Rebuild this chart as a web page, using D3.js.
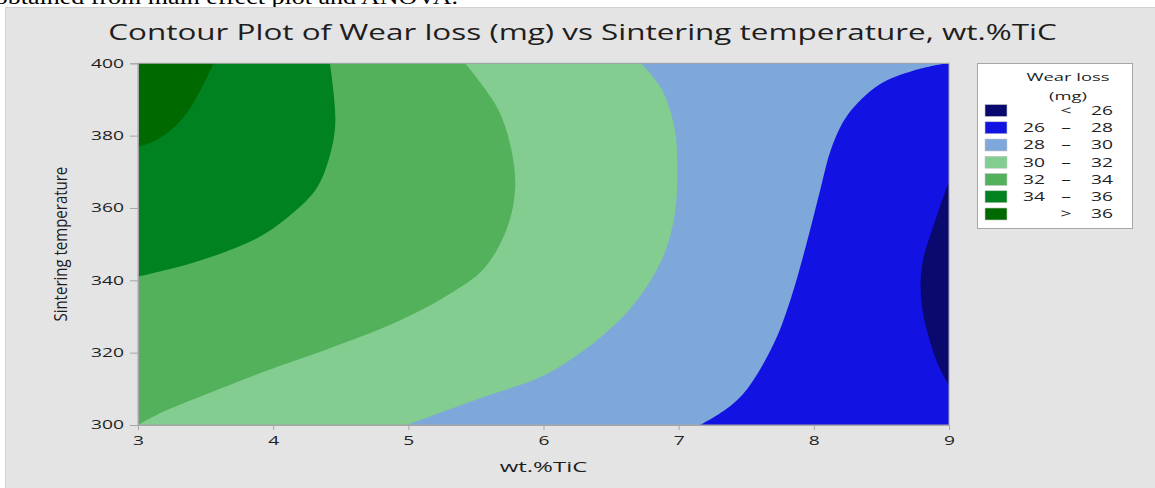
<!DOCTYPE html>
<html>
<head>
<meta charset="utf-8">
<script src="https://cdn.jsdelivr.net/npm/d3@7"></script>
<style>
  body { margin: 0; background: #fff; }
  text { font-family: "Open Sans", "Noto Sans", sans-serif; fill: #1e1e1e; }
</style>
</head>
<body>
<div class="root"></div>
<script>
// axis ticks
var xTicks = [3, 4, 5, 6, 7, 8, 9];
var yTicks = [300, 320, 340, 360, 380, 400];

// contour levels of Wear loss (mg)
var levels = [26, 28, 30, 32, 34, 36];
var legendTitleLines = ['Wear loss', '(mg)'];

// contour lines: [wt.%TiC, Sintering temperature]
var contour26 = [[9, 367.3], [8.93, 360], [8.87, 353.4], [8.81, 346], [8.79, 339.6], [8.80, 333], [8.83, 327], [8.92, 316.6], [9, 311]];
var contour28 = [[8.98, 400], [8.74, 398], [8.48, 394], [8.25, 385.7], [8.13, 376.5], [8.05, 365.4], [7.95, 350.7], [7.83, 335], [7.71, 323], [7.51, 310.1], [7.36, 304.6], [7.16, 300]];
var contour30 = [[6.72, 400], [6.87, 393.1], [6.97, 382], [6.99, 370], [6.97, 358], [6.89, 347], [6.72, 335.9], [6.47, 325.8], [6.02, 314], [5.53, 307.4], [4.99, 300]];
var contour32 = [[5.42, 400], [5.66, 387.6], [5.76, 376.5], [5.79, 365.4], [5.73, 354.4], [5.56, 343.3], [5.29, 335.9], [4.92, 328.6], [4.42, 321.2], [3.93, 314.7], [3.43, 307.4], [3.19, 303.7], [3, 300]];
var contour34 = [[4.42, 400], [4.46, 384], [4.42, 374.6], [4.32, 365.4], [4.13, 358.1], [3.88, 351.6], [3.43, 345.1], [3, 341]];
var contour36 = [[3.56, 400], [3.43, 390.3], [3.31, 383.9], [3.15, 379], [3, 376.9]];

var bandColors = ['#0a0a6e', '#1212e2', '#7ea8da', '#82cd8f', '#53b15b', '#008221', '#006a00'];

function runChart() {
  var W = 1155, H = 488;
  var svg = d3.select('.root').append('svg')
    .attr('width', W)
    .attr('height', H);

  // cut-off line of the surrounding document
  svg.append('text')
    .attr('text-anchor', 'end')
    .attr('transform', 'translate(458,4) scale(1.3,1)')
    .style('font-family', '"Liberation Serif", serif')
    .style('font-size', '20px')
    .style('fill', '#000')
    .text('were obtained from main effect plot and ANOVA.');

  svg.append('rect')
    .attr('x', 5.5).attr('y', 7.5)
    .attr('width', W).attr('height', H)
    .attr('fill', '#e4e4e4')
    .attr('stroke', '#d2d2d2');

  var x = d3.scaleLinear().domain([3, 9]).range([138, 949]);
  var y = d3.scaleLinear().domain([300, 400]).range([425, 63.3]);

  // title, stretched like the picture
  var title = svg.append('text')
    .attr('text-anchor', 'middle')
    .style('font-size', '21px')
    .text('Contour Plot of Wear loss (mg) vs Sintering temperature, wt.%TiC');
  var tsx = 949 / title.node().getComputedTextLength();
  title.attr('transform', 'translate(582.5,40) scale(' + tsx + ',1)');

  // width factor for the small text
  var probe = svg.append('text').style('font-size', '12px').text('400');
  var nsx = 33 / probe.node().getComputedTextLength();
  probe.remove();

  // contour bands
  svg.append('clipPath').attr('id', 'plotclip')
    .append('rect')
    .attr('x', x(3)).attr('y', y(400))
    .attr('width', x(9) - x(3)).attr('height', y(300) - y(400));

  var bands = svg.append('g').attr('clip-path', 'url(#plotclip)');
  var line = d3.line()
    .x(function(d) { return x(d[0]); })
    .y(function(d) { return y(d[1]); })
    .curve(d3.curveCatmullRom.alpha(0.5));

  function leftRegion(pts) {
    return line(pts) + 'L' + x(3) + ',' + y(300) + 'L' + x(3) + ',' + y(400) + 'Z';
  }

  bands.append('rect')
    .attr('x', x(3)).attr('y', y(400))
    .attr('width', x(9) - x(3)).attr('height', y(300) - y(400))
    .attr('fill', bandColors[1]);

  bands.append('path').attr('d', line(contour26) + 'Z').attr('fill', bandColors[0]);

  var upper = [contour28, contour30, contour32, contour34, contour36];
  bands.selectAll('path.up')
    .data(upper)
    .enter().append('path')
      .attr('class', 'up')
      .attr('d', leftRegion)
      .attr('fill', function(d, i) { return bandColors[i + 2]; });

  // frame
  svg.append('rect')
    .attr('x', x(3)).attr('y', y(400))
    .attr('width', x(9) - x(3)).attr('height', y(300) - y(400))
    .attr('fill', 'none')
    .attr('stroke', '#a6a6a6');

  // axes
  var gx = svg.append('g')
    .attr('transform', 'translate(0,' + y(300) + ')')
    .call(d3.axisBottom(x).tickValues(xTicks).tickFormat(d3.format('d')).tickSize(5).tickPadding(6));
  var gy = svg.append('g')
    .attr('transform', 'translate(' + x(3) + ',0)')
    .call(d3.axisLeft(y).tickValues(yTicks).tickFormat(d3.format('d')).tickSize(8).tickPadding(6));

  [gx, gy].forEach(function(g) {
    g.select('.domain').attr('stroke', '#a6a6a6');
    g.selectAll('.tick line').attr('stroke', '#a6a6a6');
    g.selectAll('.tick text')
      .style('font-size', '12px')
      .attr('font-family', null)
      .style('fill', '#1e1e1e');
  });
  gx.selectAll('.tick text').each(function() {
    var t = d3.select(this);
    t.attr('transform', 'translate(0,' + t.attr('y') + ') scale(' + nsx + ',1)').attr('y', 0);
  });
  gy.selectAll('.tick text').each(function() {
    var t = d3.select(this);
    t.attr('transform', 'translate(' + t.attr('x') + ',0) scale(' + nsx + ',1)').attr('x', 0);
  });

  svg.append('text')
    .attr('text-anchor', 'middle')
    .attr('transform', 'translate(' + (x(3) + x(9)) / 2 + ',472) scale(' + nsx + ',1)')
    .style('font-size', '15px')
    .text('wt.%TiC');

  svg.append('text')
    .attr('text-anchor', 'middle')
    .attr('transform', 'translate(67,' + (y(300) + y(400)) / 2 + ') scale(1.25,1) rotate(-90)')
    .style('font-size', '15px')
    .text('Sintering temperature');

  // legend
  var lg = svg.append('g');
  lg.append('rect')
    .attr('x', 977.5).attr('y', 63.5)
    .attr('width', 155).attr('height', 165)
    .attr('fill', '#fff')
    .attr('stroke', '#a6a6a6');

  legendTitleLines.forEach(function(s, i) {
    lg.append('text')
      .attr('text-anchor', 'middle')
      .attr('transform', 'translate(1068,' + (81 + i * 18.5) + ') scale(' + nsx + ',1)')
      .style('font-size', '11.5px')
      .text(s);
  });

  var rows = d3.range(levels.length + 1).map(function(i) {
    return { lo: i === 0 ? null : levels[i - 1], hi: i === levels.length ? null : levels[i] };
  });

  var row = lg.selectAll('g.row')
    .data(rows)
    .enter().append('g')
      .attr('class', 'row')
      .attr('transform', function(d, i) { return 'translate(0,' + (110.5 + i * 17.25) + ')'; });

  row.append('rect')
    .attr('x', 985).attr('y', -6)
    .attr('width', 22).attr('height', 12)
    .attr('fill', function(d, i) { return bandColors[i]; })
    .attr('stroke', '#c8c8c8')
    .attr('stroke-width', 0.6);

  function cell(sel, xpos, anchor, fn) {
    sel.append('text')
      .attr('text-anchor', anchor)
      .attr('transform', 'translate(' + xpos + ',4.3) scale(' + nsx + ',1)')
      .style('font-size', '12px')
      .text(fn);
  }
  cell(row, 1045, 'end', function(d) { return d.lo !== null && d.hi !== null ? d.lo : ''; });
  cell(row, 1066, 'middle', function(d) { return d.lo === null ? '<' : (d.hi === null ? '>' : '\u2013'); });
  cell(row, 1113, 'end', function(d) { return d.hi === null ? d.lo : d.hi; });
}

window.onload = function() {
  runChart();
};
</script>
</body>
</html>
